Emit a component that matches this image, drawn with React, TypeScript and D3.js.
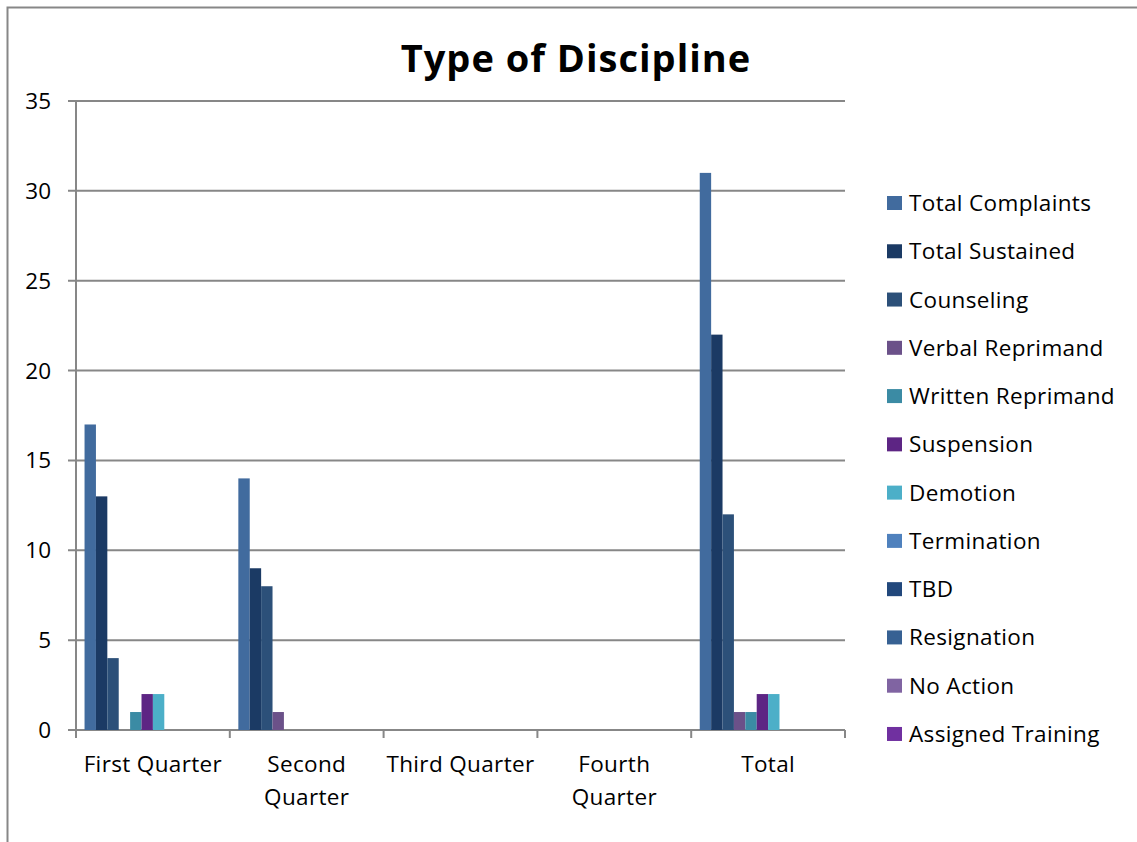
import { useRef, useEffect } from 'react';
import * as d3 from 'd3';

const quarters = ['First Quarter', 'Second Quarter', 'Third Quarter', 'Fourth Quarter', 'Total'];
const seriesNames = [
    'Total Complaints', 'Total Sustained', 'Counseling', 'Verbal Reprimand', 'Written Reprimand',
    'Suspension', 'Demotion', 'Termination', 'TBD', 'Resignation', 'No Action', 'Assigned Training',
];
const seriesColors = [
    '#416b9e', '#1b3a64', '#2c5079', '#6b5189', '#3b8ba4',
    '#5d2584', '#4cafc8', '#4f81bd', '#22487c', '#376193', '#8064a2', '#7030a0',
];
// one row per series, one value per quarter
const totalComplaints = [17, 14, 0, 0, 31];
const totalSustained = [13, 9, 0, 0, 22];
const counseling = [4, 8, 0, 0, 12];
const verbalReprimand = [0, 1, 0, 0, 1];
const writtenReprimand = [1, 0, 0, 0, 1];
const suspension = [2, 0, 0, 0, 2];
const demotion = [2, 0, 0, 0, 2];
const termination = [0, 0, 0, 0, 0];
const tbd = [0, 0, 0, 0, 0];
const resignation = [0, 0, 0, 0, 0];
const noAction = [0, 0, 0, 0, 0];
const assignedTraining = [0, 0, 0, 0, 0];
const yTicks = [0, 5, 10, 15, 20, 25, 30, 35];

const seriesValues = [
    totalComplaints, totalSustained, counseling, verbalReprimand, writtenReprimand,
    suspension, demotion, termination, tbd, resignation, noAction, assignedTraining,
];

const FONT = '"Open Sans", "Noto Sans", sans-serif';
const LABEL_SIZE = 22.5;
const LABEL_SPACING = 0.35;

export default function App() {
    const svgRef = useRef<SVGSVGElement>(null);

    useEffect(() => {
        if (!svgRef.current) return;
        const width = 1137;
        const height = 842;
        const plot = { left: 76, right: 845, top: 101, bottom: 730 };

        const svg = d3.select(svgRef.current);
        svg.selectAll('*').remove();

        svg.append('rect')
            .attr('width', width).attr('height', height).attr('fill', 'white');

        // chart area border (runs off the right and bottom of the picture)
        svg.append('rect')
            .attr('x', 7.5).attr('y', 7.5)
            .attr('width', width + 20).attr('height', height + 20)
            .attr('fill', 'none').attr('stroke', '#878787').attr('stroke-width', 2);

        const x0 = d3.scaleBand<string>()
            .domain(quarters)
            .range([plot.left, plot.right]);
        // gap width 150% -> bar = band / (12 + 1.5)
        const bw = x0.bandwidth() / (seriesNames.length + 1.5);
        const x1 = d3.scaleBand<string>()
            .domain(seriesNames)
            .range([0.75 * bw, x0.bandwidth() - 0.75 * bw])
            .paddingInner(0);

        const y = d3.scaleLinear().domain([0, 35]).range([plot.bottom, plot.top]);

        // gridlines
        svg.append('g')
            .selectAll('line')
            .data(yTicks)
            .enter()
            .append('line')
            .attr('x1', plot.left - 8)
            .attr('x2', plot.right)
            .attr('y1', d => y(d))
            .attr('y2', d => y(d))
            .attr('stroke', '#878787')
            .attr('stroke-width', 2);

        // y axis line
        svg.append('line')
            .attr('x1', plot.left).attr('x2', plot.left)
            .attr('y1', plot.top).attr('y2', plot.bottom + 8)
            .attr('stroke', '#878787').attr('stroke-width', 2);

        // x tick marks
        const boundaries = quarters.map(q => x0(q) as number).concat([plot.right]);
        svg.append('g')
            .selectAll('line')
            .data(boundaries)
            .enter()
            .append('line')
            .attr('x1', d => d).attr('x2', d => d)
            .attr('y1', plot.bottom).attr('y2', plot.bottom + 8)
            .attr('stroke', '#878787').attr('stroke-width', 2);

        // y labels
        svg.append('g')
            .selectAll('text')
            .data(yTicks)
            .enter()
            .append('text')
            .attr('x', 51)
            .attr('y', d => y(d) + 8)
            .attr('text-anchor', 'end')
            .attr('font-family', FONT)
            .attr('font-size', LABEL_SIZE)
            .attr('fill', '#000')
            .text(d => d);

        // bars
        const groups = svg.append('g')
            .selectAll('g')
            .data(quarters)
            .enter()
            .append('g')
            .attr('transform', q => `translate(${x0(q)},0)`);

        groups.each(function (q, qi) {
            const g = d3.select(this);
            seriesNames.forEach((s, si) => {
                const v = seriesValues[si][qi];
                if (!v) return;
                g.append('rect')
                    .attr('x', x1(s) as number)
                    .attr('y', y(v))
                    .attr('width', x1.bandwidth())
                    .attr('height', y(0) - y(v))
                    .attr('fill', seriesColors[si]);
            });
        });

        // x labels (wrapped like the original)
        const xLines: Record<string, string[]> = {
            'First Quarter': ['First Quarter'],
            'Second Quarter': ['Second', 'Quarter'],
            'Third Quarter': ['Third Quarter'],
            'Fourth Quarter': ['Fourth', 'Quarter'],
            'Total': ['Total'],
        };
        quarters.forEach(q => {
            const cx = (x0(q) as number) + x0.bandwidth() / 2;
            xLines[q].forEach((line, i) => {
                svg.append('text')
                    .attr('x', cx)
                    .attr('y', 772 + i * 33)
                    .attr('text-anchor', 'middle')
                    .attr('font-family', FONT)
                    .attr('font-size', LABEL_SIZE)
                    .attr('letter-spacing', LABEL_SPACING)
                    .attr('fill', '#000')
                    .text(line);
            });
        });

        // title
        svg.append('text')
            .attr('x', 576)
            .attr('y', 72)
            .attr('text-anchor', 'middle')
            .attr('font-family', FONT)
            .attr('font-size', 38)
            .attr('font-weight', 700)
            .attr('letter-spacing', 1)
            .attr('fill', '#000')
            .text('Type of Discipline');

        // legend
        const legend = svg.append('g')
            .selectAll('g')
            .data(seriesNames)
            .enter()
            .append('g')
            .attr('transform', (_, i) => `translate(887,${203 + i * 48.27})`);
        legend.append('rect')
            .attr('x', 0).attr('y', -7)
            .attr('width', 15).attr('height', 14)
            .attr('fill', (_, i) => seriesColors[i]);
        legend.append('text')
            .attr('x', 22)
            .attr('y', 8)
            .attr('font-family', FONT)
            .attr('font-size', LABEL_SIZE)
            .attr('letter-spacing', LABEL_SPACING)
            .attr('fill', '#000')
            .text(d => d);
    }, []);

    return (
        <svg
            ref={svgRef}
            width={1137}
            height={842}
            style={{ position: 'absolute', left: 0, top: 0, display: 'block' }}
        />
    );
}
